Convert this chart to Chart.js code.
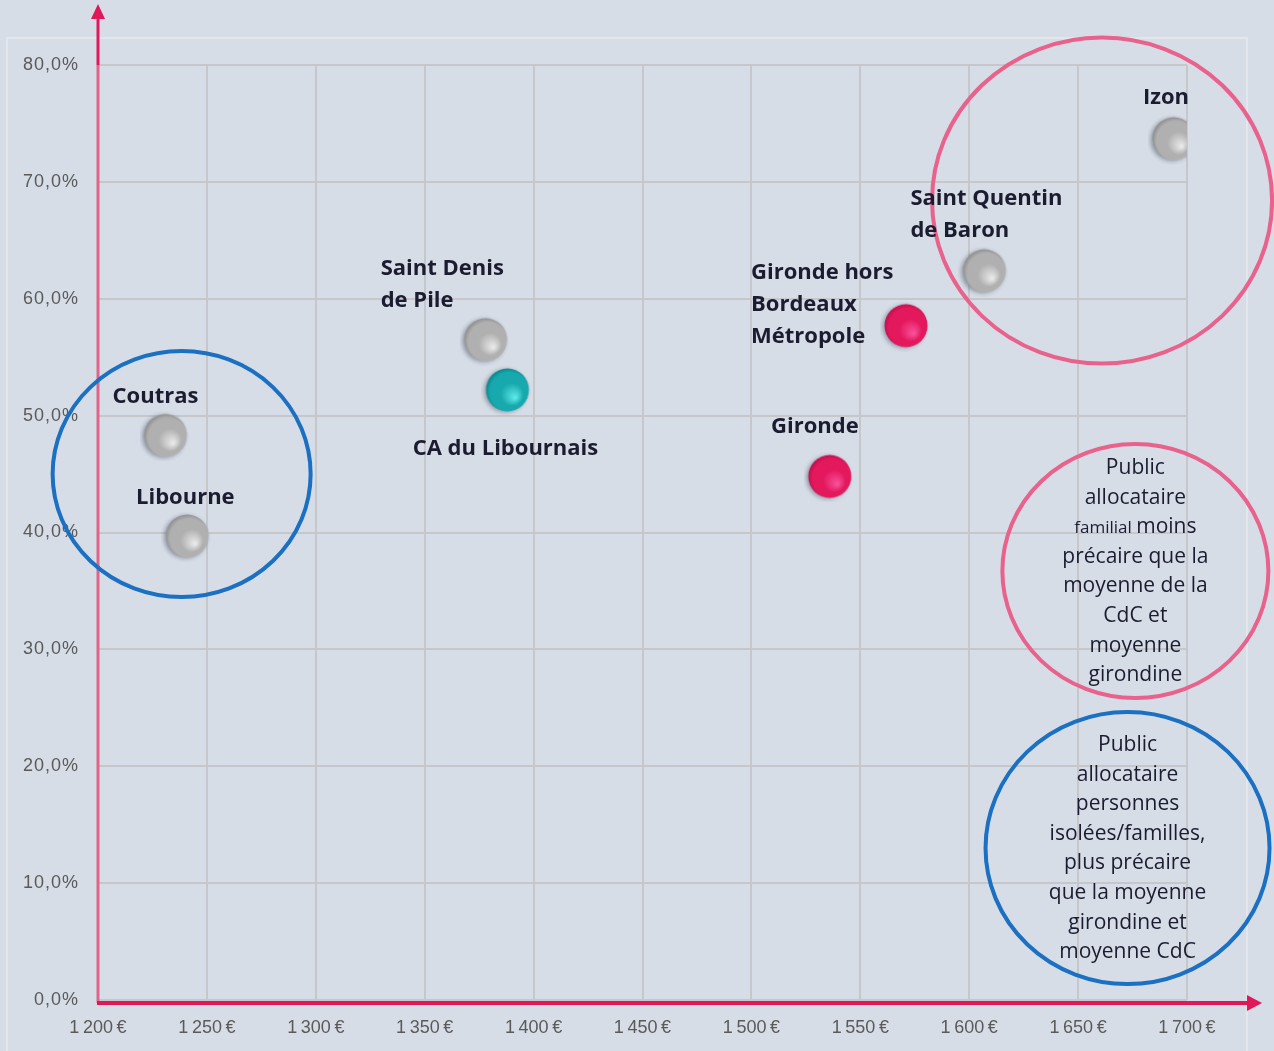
<!DOCTYPE html>
<html lang="fr">
<head>
    <meta charset="UTF-8">
    <title>Revenu et part des allocataires</title>
    <script src="https://cdn.jsdelivr.net/npm/chart.js"></script>
    <style>
        body { margin: 0; background: #d6dde7; }
        #wrap { width: 1274px; height: 1051px; position: relative; }
    </style>
</head>
<body>
<div id="wrap"><canvas id="myChart" width="1274" height="1051"></canvas></div>
<script>
// données
const communes = ['Izon', 'Saint Quentin de Baron', 'Gironde hors Bordeaux Métropole', 'Gironde',
                  'Saint Denis de Pile', 'CA du Libournais', 'Coutras', 'Libourne'];
const revenuMedian = [1694, 1607, 1571, 1536, 1378, 1388, 1231, 1241];
const partAllocataires = [73.7, 62.4, 57.7, 44.8, 56.5, 52.2, 48.3, 39.7];
const typeZone = ['commune', 'commune', 'gironde', 'gironde', 'commune', 'ca', 'commune', 'commune'];
const xTicks = [1200, 1250, 1300, 1350, 1400, 1450, 1500, 1550, 1600, 1650, 1700];
const yTicks = [0, 10, 20, 30, 40, 50, 60, 70, 80];

// étiquettes : lignes + décalage en px par rapport au point
const labelLines = [
    ['Izon'], ['Saint Quentin', 'de Baron'], ['Gironde hors', 'Bordeaux', 'Métropole'], ['Gironde'],
    ['Saint Denis', 'de Pile'], ['CA du Libournais'], ['Coutras'], ['Libourne']
];
const labelPos = [
    { dx: -8, dy: -41, align: 'center' },
    { dx: -74, dy: -72, align: 'left' },
    { dx: -155, dy: -53, align: 'left' },
    { dx: -15, dy: -50, align: 'center' },
    { dx: -105, dy: -71, align: 'left' },
    { dx: -2, dy: 59, align: 'center' },
    { dx: -10, dy: -39, align: 'center' },
    { dx: -2, dy: -38, align: 'center' }
];

// ellipses (centre en valeurs, rayons en px)
const ellipses = [
    { x: 1661, y: 68.4, rx: 170, ry: 163, color: '#e8628c', text: [] },
    { x: 1238.4, y: 45.0, rx: 129, ry: 123, color: '#1b70c2', text: [] },
    { x: 1676.3, y: 36.7, rx: 133, ry: 127, color: '#e8628c',
      text: ['Public', 'allocataire', '*familial moins', 'précaire que la', 'moyenne de la', 'CdC et', 'moyenne', 'girondine'] },
    { x: 1672.7, y: 13.0, rx: 142, ry: 136, color: '#1b70c2',
      text: ['Public', 'allocataire', 'personnes', 'isolées/familles,', 'plus précaire', 'que la moyenne', 'girondine et', 'moyenne CdC'] }
];

// boules
function makeBall(edge, base, light) {
    const c = document.createElement('canvas');
    c.width = 52; c.height = 52;
    const g = c.getContext('2d');
    g.shadowColor = 'rgba(40,50,70,0.4)';
    g.shadowBlur = 4;
    g.shadowOffsetX = -2;
    g.shadowOffsetY = 1;
    const grad = g.createRadialGradient(34, 34, 0, 27, 27, 23);
    grad.addColorStop(0, light);
    grad.addColorStop(0.5, base);
    grad.addColorStop(0.85, base);
    grad.addColorStop(1, edge);
    g.fillStyle = grad;
    g.beginPath();
    g.arc(26, 26, 21.5, 0, Math.PI * 2);
    g.fill();
    return c;
}
const balls = {
    commune: makeBall('#8c8c8c', '#b0b0b0', '#ededed'),
    gironde: makeBall('#bd0e4a', '#e3185d', '#f9559c'),
    ca: makeBall('#0a8387', '#17a9ad', '#62ecee')
};

const decorPlugin = {
    id: 'decor',
    beforeDraw(chart) {
        const ctx = chart.ctx;
        ctx.save();
        ctx.fillStyle = '#d6dde7';
        ctx.fillRect(0, 0, chart.width, chart.height);
        ctx.strokeStyle = '#e3e7ed';
        ctx.lineWidth = 2;
        ctx.strokeRect(7, 38, 1240, 1030);
        ctx.restore();
        ctx.letterSpacing = '1px';
    },
    beforeDatasetsDraw(chart) {
        chart.ctx.letterSpacing = '0px';
    },
    afterDraw(chart) {
        const ctx = chart.ctx;
        const a = chart.chartArea;
        const xs = chart.scales.x, ys = chart.scales.y;
        ctx.save();
        ctx.letterSpacing = '0px';
        // axe vertical
        ctx.lineWidth = 3;
        ctx.strokeStyle = '#dd6688';
        ctx.beginPath();
        ctx.moveTo(a.left, a.bottom + 3);
        ctx.lineTo(a.left, a.top);
        ctx.stroke();
        ctx.strokeStyle = '#e0185a';
        ctx.fillStyle = '#e0185a';
        ctx.beginPath();
        ctx.moveTo(a.left, a.top);
        ctx.lineTo(a.left, 16);
        ctx.stroke();
        ctx.beginPath();
        ctx.moveTo(a.left, 4);
        ctx.lineTo(a.left - 7, 19);
        ctx.lineTo(a.left + 7, 19);
        ctx.closePath();
        ctx.fill();
        // axe horizontal
        ctx.lineWidth = 4;
        ctx.beginPath();
        ctx.moveTo(a.left - 1, a.bottom + 3);
        ctx.lineTo(1250, a.bottom + 3);
        ctx.stroke();
        ctx.beginPath();
        ctx.moveTo(1262, a.bottom + 3);
        ctx.lineTo(1247, a.bottom - 5);
        ctx.lineTo(1247, a.bottom + 11);
        ctx.closePath();
        ctx.fill();

        // ellipses
        ctx.lineWidth = 4;
        ellipses.forEach(e => {
            const cx = xs.getPixelForValue(e.x), cy = ys.getPixelForValue(e.y);
            ctx.strokeStyle = e.color;
            ctx.beginPath();
            ctx.ellipse(cx, cy, e.rx, e.ry, 0, 0, Math.PI * 2);
            ctx.stroke();
            ctx.fillStyle = '#1c1c30';
            ctx.textAlign = 'center';
            ctx.textBaseline = 'middle';
            e.text.forEach((t, i) => {
                const ty = cy - 103 + i * 29.6;
                if (t.startsWith('*')) {
                    const parts = t.slice(1).split(' ');
                    ctx.font = '17px "Open Sans"';
                    const w1 = ctx.measureText(parts[0] + ' ').width;
                    ctx.font = '21px "Open Sans"';
                    const w2 = ctx.measureText(parts[1]).width;
                    const x0 = cx - (w1 + w2) / 2;
                    ctx.textAlign = 'left';
                    ctx.font = '17px "Open Sans"';
                    ctx.fillText(parts[0] + ' ', x0, ty + 1);
                    ctx.font = '21px "Open Sans"';
                    ctx.fillText(parts[1], x0 + w1, ty);
                    ctx.textAlign = 'center';
                } else {
                    ctx.font = '21px "Open Sans"';
                    ctx.fillText(t, cx, ty);
                }
            });
        });

        // étiquettes des points
        ctx.fillStyle = '#1c1c30';
        ctx.font = 'bold 22px "Open Sans"';
        ctx.textBaseline = 'middle';
        const meta = chart.getDatasetMeta(0);
        meta.data.forEach((pt, i) => {
            const p = labelPos[i];
            ctx.textAlign = p.align;
            labelLines[i].forEach((line, j) => {
                ctx.fillText(line, pt.x + p.dx, pt.y + p.dy + j * 32);
            });
        });
        ctx.restore();
    }
};

const ctx = document.getElementById('myChart').getContext('2d');
const myChart = new Chart(ctx, {
    type: 'scatter',
    data: {
        datasets: [{
            label: 'Communes',
            data: revenuMedian.map((r, i) => ({ x: r, y: partAllocataires[i] })),
            pointStyle: typeZone.map(t => balls[t]),
            pointRadius: 22,
            pointHoverRadius: 22
        }]
    },
    options: {
        responsive: false,
        animation: false,
        layout: { padding: { left: 0, top: 65, right: 87, bottom: 0 } },
        plugins: { legend: { display: false }, tooltip: { enabled: false } },
        scales: {
            x: {
                type: 'linear',
                min: 1200, max: 1700,
                afterBuildTicks: s => { s.ticks = xTicks.map(v => ({ value: v })); },
                afterFit: s => { s.height = 51; },
                border: { display: false },
                grid: { color: '#c5c7ca', lineWidth: 2, drawTicks: false },
                ticks: {
                    padding: 17,
                    color: '#5a5a5a',
                    font: { family: 'Liberation Sans', size: 18 },
                    callback: v => String(v).replace(/(\d)(\d{3})$/, '$1\u202f$2') + '\u202f€'
                }
            },
            y: {
                min: 0, max: 80,
                afterBuildTicks: s => { s.ticks = yTicks.map(v => ({ value: v })); },
                afterFit: s => { s.width = 98; },
                border: { display: false },
                grid: { color: '#c5c7ca', lineWidth: 2, drawTicks: false },
                ticks: {
                    padding: 19,
                    color: '#5a5a5a',
                    font: { family: 'Liberation Sans', size: 18 },
                    callback: v => v.toFixed(1).replace('.', ',') + '%'
                }
            }
        }
    },
    plugins: [decorPlugin]
});
</script>
</body>
</html>
